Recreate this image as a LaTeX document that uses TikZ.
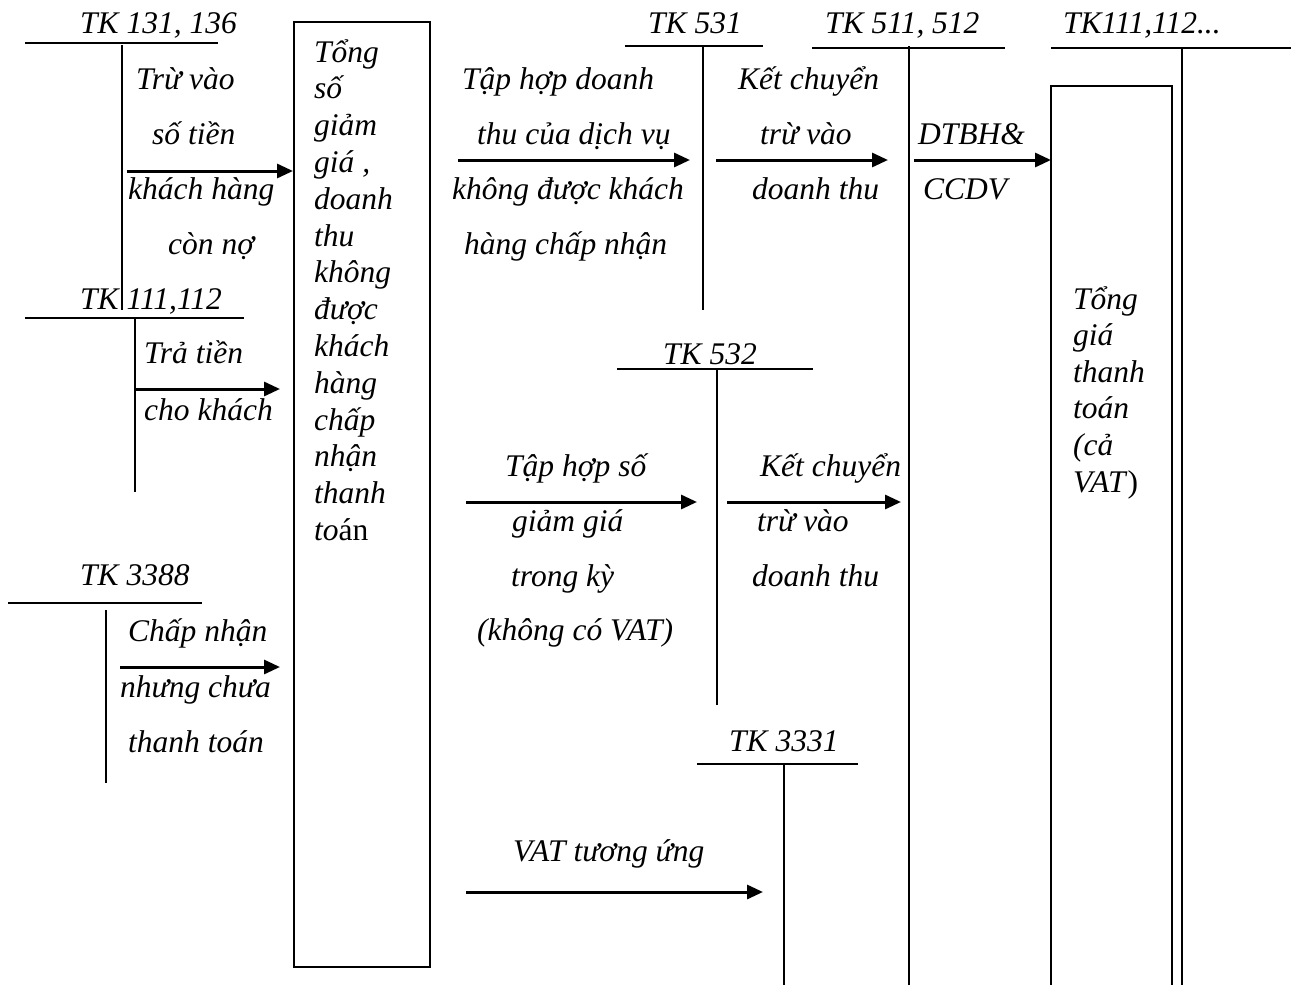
\documentclass[tikz,border=0pt]{standalone}
\usepackage{fontspec}
\setmainfont{Liberation Serif}
\usetikzlibrary{arrows.meta}
\tikzset{
  lbl/.style={anchor=base west, inner sep=0pt, font=\fontsize{31.5}{37}\selectfont\itshape},
  acct/.style={line width=2.4pt},
  flow/.style={line width=3pt, -{Triangle[length=16pt,width=14pt]}},
  frame/.style={line width=2.2pt},
}
\begin{document}
\begin{tikzpicture}[x=1pt,y=-1pt]
\useasboundingbox (0,0) rectangle (1291,985);

% ---------- T-accounts (coordinates) ----------
\coordinate (a131L) at (25,43);   \coordinate (a131R) at (218,43);
\coordinate (a131T) at (122,45);  \coordinate (a131B) at (122,310);
\coordinate (a111L) at (25,318);  \coordinate (a111R) at (244,318);
\coordinate (a111T) at (135,319); \coordinate (a111B) at (135,492);
\coordinate (a3388L) at (8,603);  \coordinate (a3388R) at (202,603);
\coordinate (a3388T) at (106,610);\coordinate (a3388B) at (106,783);
\coordinate (a531L) at (625,46);  \coordinate (a531R) at (763,46);
\coordinate (a531T) at (703,47);  \coordinate (a531B) at (703,310);
\coordinate (a511L) at (812,48);  \coordinate (a511R) at (1005,48);
\coordinate (a511T) at (909,46);  \coordinate (a511B) at (909,985);
\coordinate (aR111L) at (1051,48);\coordinate (aR111R) at (1291,48);
\coordinate (aR111T) at (1182,49);\coordinate (aR111B) at (1182,985);
\coordinate (a532L) at (617,369); \coordinate (a532R) at (813,369);
\coordinate (a532T) at (717,370); \coordinate (a532B) at (717,705);
\coordinate (a3331L) at (697,764);\coordinate (a3331R) at (858,764);
\coordinate (a3331T) at (784,765);\coordinate (a3331B) at (784,985);

\foreach \a in {a131,a111,a3388,a531,a511,aR111,a532,a3331}{
  \draw[acct] (\a L) -- (\a R);
  \draw[acct] (\a T) -- (\a B);
}

% ---------- boxes ----------
\node[draw, frame, inner sep=0pt, minimum width=136pt, minimum height=945pt, anchor=north west] (box1) at (293,21) {};
\coordinate (rbBL) at (1051,985); \coordinate (rbTL) at (1051,86);
\coordinate (rbTR) at (1172,86);  \coordinate (rbBR) at (1172,985);
\draw[frame] (rbBL) -- (rbTL) -- (rbTR) -- (rbBR);

% ---------- account titles ----------
\node[lbl] (t131) at (80,33) {TK 131, 136};
\node[lbl] (t111) at (80,309) {TK 111,112};
\node[lbl] (t3388) at (80,585) {TK 3388};
\node[lbl] (t531) at (648,33) {TK 531};
\node[lbl] (t511) at (825,33) {TK 511, 512};
\node[lbl] (tR111) at (1063,33) {TK111,112...};
\node[lbl] (t532) at (663,364) {TK 532};
\node[lbl] (t3331) at (729,751) {TK 3331};

% ---------- left labels ----------
\node[lbl] (l1a) at (136,89) {Trừ vào};
\node[lbl] (l1b) at (152,144) {số tiền};
\node[lbl] (l1c) at (128,199) {khách hàng};
\node[lbl] (l1d) at (168,254) {còn nợ};
\node[lbl] (l2a) at (144,363) {Trả tiền};
\node[lbl] (l2b) at (144,420) {cho khách};
\node[lbl] (l3a) at (128,641) {Chấp nhận};
\node[lbl] (l3b) at (120,697) {nhưng chưa};
\node[lbl] (l3c) at (128,752) {thanh toán};

% ---------- left box text ----------
\foreach \w [count=\i from 0] in {{Tổng},{số},{giảm},{giá ,},{doanh},{thu},{không},{được},{khách},{hàng},{chấp},{nhận},{thanh},{to\textup{án}}}{
  \node[lbl] (bx\i) at (314,62+36.8*\i) {\w};
}

% ---------- TK 531 labels ----------
\node[lbl] (m1a) at (462,89) {Tập hợp doanh};
\node[lbl] (m1b) at (477,144) {thu của dịch vụ};
\node[lbl] (m1c) at (452,199) {không được khách};
\node[lbl] (m1d) at (464,254) {hàng chấp nhận};
\node[lbl] (k1a) at (738,89) {Kết chuyển};
\node[lbl] (k1b) at (760,144) {trừ vào};
\node[lbl] (k1c) at (752,199) {doanh thu};
\node[lbl] (d1a) at (918,144) {DTBH\&};
\node[lbl] (d1b) at (923,199) {CCDV};

% ---------- TK 532 labels ----------
\node[lbl] (m2a) at (505,476) {Tập hợp số};
\node[lbl] (m2b) at (512,531) {giảm giá};
\node[lbl] (m2c) at (511,586) {trong kỳ};
\node[lbl] (m2d) at (477,640) {(không có VAT)};
\node[lbl] (k2a) at (760,476) {Kết chuyển};
\node[lbl] (k2b) at (757,531) {trừ vào};
\node[lbl] (k2c) at (752,586) {doanh thu};

% ---------- TK 3331 label ----------
\node[lbl] (v1) at (513,861) {VAT tương ứng};

% ---------- right box text ----------
\foreach \w [count=\i from 0] in {{Tổng},{giá},{thanh},{toán},{(cả},{VAT\textup{)}}}{
  \node[lbl] (rb\i) at (1073,309+36.6*\i) {\w};
}

% ---------- arrows ----------
\coordinate (f1s) at (127,171);  \coordinate (f1e) at (box1.west |- f1s);
\coordinate (f2s) at (135,389);  \coordinate (f2e) at (280,389);
\coordinate (f3s) at (120,667);  \coordinate (f3e) at (280,667);
\coordinate (f4s) at (458,160);  \coordinate (f4e) at (690,160);
\coordinate (f5s) at (716,160);  \coordinate (f5e) at (888,160);
\coordinate (f6s) at (914,160);  \coordinate (f6e) at (rbTL |- f6s);
\coordinate (f7s) at (466,502);  \coordinate (f7e) at (697,502);
\coordinate (f8s) at (727,502);  \coordinate (f8e) at (901,502);
\coordinate (f9s) at (466,892);  \coordinate (f9e) at (763,892);
\foreach \k in {1,...,9}{
  \draw[flow] (f\k s) -- (f\k e);
}
\end{tikzpicture}
\end{document}
